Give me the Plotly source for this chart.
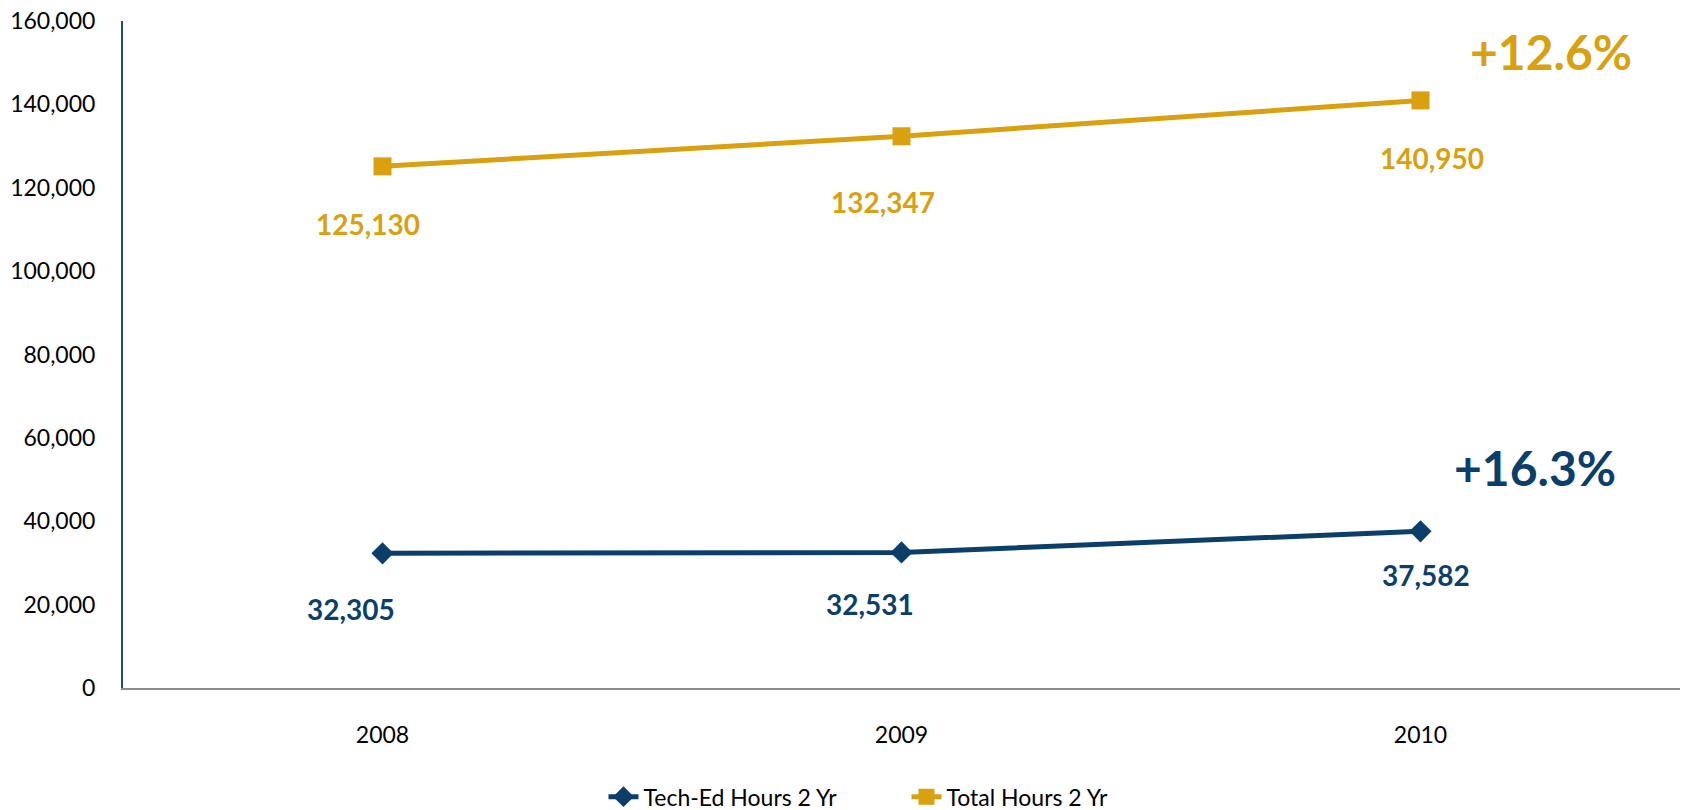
import plotly.graph_objects as go

years = ["2008", "2009", "2010"]
tech_ed = [32305, 32531, 37582]
total = [125130, 132347, 140950]
tech_name = "Tech-Ed Hours 2 Yr"
total_name = "Total Hours 2 Yr"
pct_total = "+12.6%"
pct_tech = "+16.3%"

GOLD = "#D9A00F"
NAVY = "#0B3F6A"
FONT = "Lato"

fig = go.Figure()
fig.add_trace(go.Scatter(x=years, y=tech_ed, name=tech_name, mode="lines+markers",
                         line=dict(color=NAVY, width=5),
                         marker=dict(symbol="diamond", size=17, color=NAVY)))
fig.add_trace(go.Scatter(x=years, y=total, name=total_name, mode="lines+markers",
                         line=dict(color=GOLD, width=5),
                         marker=dict(symbol="square", size=18, color=GOLD)))

total_shifts = [(-15, -58), (-19, -66), (11, -58)]
tech_shifts = [(-32, -56), (-32, -52), (5, -44)]
for i, v in enumerate(total):
    dx, dy = total_shifts[i]
    fig.add_annotation(x=i, y=v, xref="x", yref="y", text=f"<b>{v:,}</b>", showarrow=False,
                       xshift=dx, yshift=dy, font=dict(size=28, color=GOLD, family=FONT))
for i, v in enumerate(tech_ed):
    dx, dy = tech_shifts[i]
    fig.add_annotation(x=i, y=v, xref="x", yref="y", text=f"<b>{v:,}</b>", showarrow=False,
                       xshift=dx, yshift=dy, font=dict(size=28, color=NAVY, family=FONT))
fig.add_annotation(x=2, y=152800, xref="x", yref="y", text=f"<b>{pct_total}</b>", showarrow=False,
                   xshift=130, font=dict(size=48, color=GOLD, family=FONT))
fig.add_annotation(x=2, y=53000, xref="x", yref="y", text=f"<b>{pct_tech}</b>", showarrow=False,
                   xshift=114, font=dict(size=48, color=NAVY, family=FONT))

fig.update_layout(
    width=1685, height=810,
    margin=dict(l=123, r=5, t=21, b=122, autoexpand=False),
    plot_bgcolor="white", paper_bgcolor="white",
    font=dict(family=FONT, size=23, color="black"),
    showlegend=True,
    legend=dict(orientation="h", x=0.3086, xanchor="left", y=-0.163, yanchor="middle",
                font=dict(size=23, family=FONT), entrywidth=258, entrywidthmode="pixels"),
    xaxis=dict(type="category", showgrid=False, showline=True, linecolor="#8C8C8C", linewidth=2,
               ticks="", tickfont=dict(size=23), range=[-0.5, 2.5], zeroline=False, automargin=False,
               ticklabelstandoff=25),
    yaxis=dict(range=[0, 160000], dtick=20000, tickformat=",d", showgrid=False, showline=True,
               linecolor="#1F4E79", linewidth=2, ticks="", tickfont=dict(size=23), zeroline=False,
               ticklabelstandoff=21, automargin=False),
)

fig.write_html("out.html", config={"displayModeBar": False},
               post_script="document.body.style.margin='0px';")
